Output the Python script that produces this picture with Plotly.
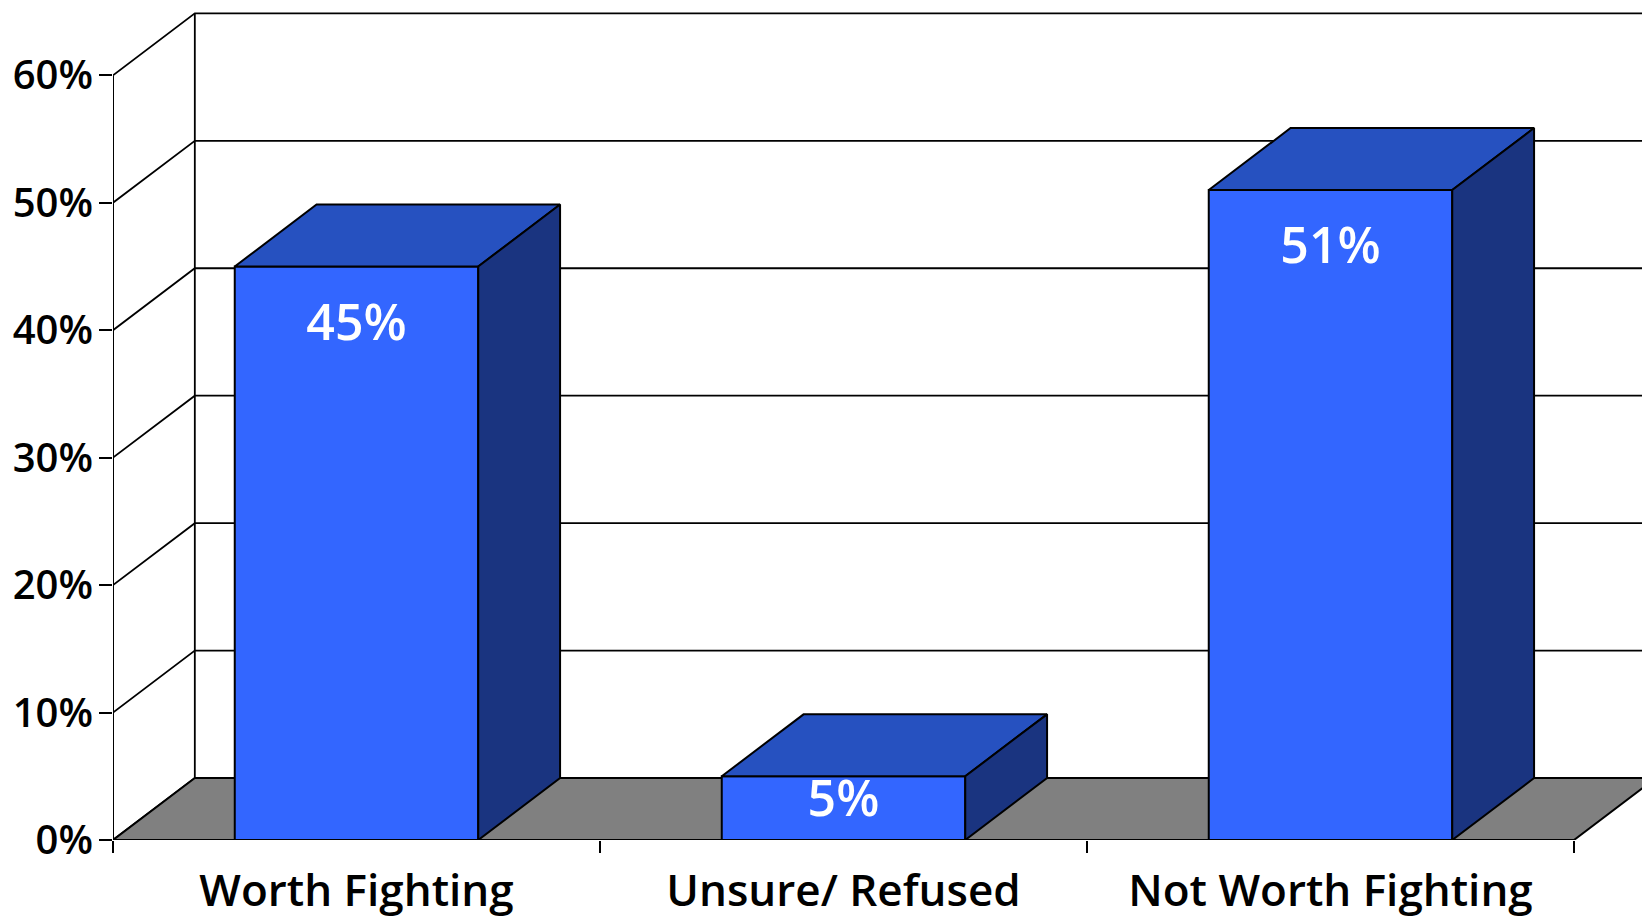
import plotly.graph_objects as go

# Survey result: is the war worth fighting?
categories = ["Worth Fighting", "Unsure/ Refused", "Not Worth Fighting"]
shares = [45, 5, 51]                      # percent of respondents
y_ticks = [0, 10, 20, 30, 40, 50, 60]
y_tick_text = [f"{t}%" for t in y_ticks]

# Pseudo-3D geometry (data units: category slots on x, percent on y)
DEPTH_X = 0.168      # horizontal shift from front plane to back wall
DEPTH_Y = 4.86       # vertical shift from front plane to back wall
BAR_HALF = 0.25      # half width of each bar inside its category slot
N = len(categories)

FRONT = "#3366FF"
TOP = "#2651C0"
SIDE = "#1A3480"
FLOOR = "#808080"
EDGE = dict(color="black", width=2)

fig = go.Figure()

# Wall gridlines: diagonal on the side wall, horizontal on the back wall
gx, gy = [], []
for t in y_ticks:
    gx += [0, DEPTH_X, N + DEPTH_X, None]
    gy += [t, t + DEPTH_Y, t + DEPTH_Y, None]
gx += [DEPTH_X, DEPTH_X, None]
gy += [DEPTH_Y, y_ticks[-1] + DEPTH_Y, None]
fig.add_trace(go.Scatter(x=gx, y=gy, mode="lines", line=dict(color="black", width=1.8),
                         hoverinfo="skip", showlegend=False))

# Floor
fig.add_trace(go.Scatter(x=[0, N, N + DEPTH_X, DEPTH_X, 0],
                         y=[0, 0, DEPTH_Y, DEPTH_Y, 0],
                         mode="lines", fill="toself", fillcolor=FLOOR, line=EDGE,
                         hoverinfo="skip", showlegend=False))

# Front vertical axis line up to the top tick
fig.add_trace(go.Scatter(x=[0, 0], y=[0, y_ticks[-1]], mode="lines", line=EDGE,
                         hoverinfo="skip", showlegend=False))


def face(xs, ys, color):
    fig.add_trace(go.Scatter(x=xs + [xs[0]], y=ys + [ys[0]], mode="lines",
                             fill="toself", fillcolor=color, line=EDGE,
                             hoverinfo="skip", showlegend=False))


for i, v in enumerate(shares):
    x0, x1 = i + 0.5 - BAR_HALF, i + 0.5 + BAR_HALF
    face([x0, x1, x1, x0], [0, 0, v, v], FRONT)
    face([x0, x1, x1 + DEPTH_X, x0 + DEPTH_X], [v, v, v + DEPTH_Y, v + DEPTH_Y], TOP)
    face([x1, x1 + DEPTH_X, x1 + DEPTH_X, x1], [0, DEPTH_Y, v + DEPTH_Y, v], SIDE)

# Value labels just inside the top of each bar
label_y = [v - min(4.75, 0.43 * v) for v in shares]
fig.add_trace(go.Scatter(x=[i + 0.5 for i in range(N)], y=label_y,
                         xaxis="x2", mode="text",
                         text=[f"{v}%" for v in shares], textposition="middle center",
                         textfont=dict(family="Open Sans", size=50, color="white", weight=600),
                         hoverinfo="skip", showlegend=False))

W, H = 1642, 919
ML, MR, MT, MB = 113, 0, 10, 79
PX_PER_SLOT = 487.0
PX_PER_PCT = 12.745
x_range = [0, (W - ML - MR) / PX_PER_SLOT]
y_range = [0, (H - MT - MB) / PX_PER_PCT]

fig.update_layout(
    width=W, height=H, autosize=False,
    margin=dict(l=ML, r=MR, t=MT, b=MB),
    plot_bgcolor="white", paper_bgcolor="white",
    xaxis=dict(range=x_range, tickvals=list(range(N + 1)), showticklabels=False,
               ticks="outside", ticklen=12, tickwidth=1.8, tickcolor="black",
               automargin=False,
               showgrid=False, zeroline=False, showline=False, fixedrange=True),
    xaxis2=dict(range=x_range, overlaying="x", anchor="y", side="bottom",
                tickvals=[i + 0.5 for i in range(N)], ticktext=categories,
                ticks="", ticklabelstandoff=21, automargin=False,
                tickfont=dict(family="Open Sans", size=44, color="black", weight=600),
                showgrid=False, zeroline=False, showline=False, fixedrange=True),
    yaxis=dict(range=y_range, tickvals=y_ticks, ticktext=y_tick_text,
               ticks="outside", ticklen=13, tickwidth=1.8, tickcolor="black",
               ticklabelstandoff=-2, automargin=False,
               tickfont=dict(family="Open Sans", size=40, color="black", weight=600),
               showgrid=False, zeroline=False, showline=False, fixedrange=True),
)

fig.write_html("out.html")
